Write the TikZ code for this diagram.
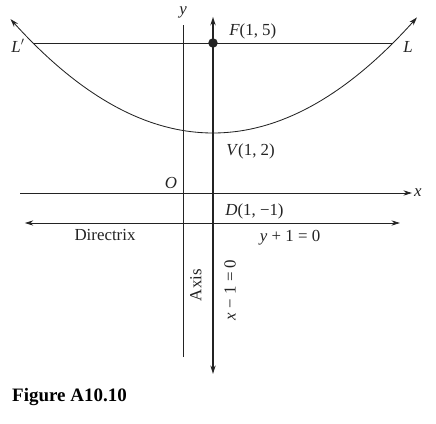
\documentclass[tikz,border=0pt]{standalone}
\usepackage{fontspec}
\setmainfont{Liberation Serif}
\usepackage{xcolor}
\definecolor{inkgray}{RGB}{35, 35, 35}
\usepackage{tikz}
\usetikzlibrary{arrows.meta, positioning, calc}

\tikzset{
    thinline/.style={line width=0.8pt, inkgray},
    axisline/.style={line width=2pt, inkgray},
    lbl/.style={font=\fontsize{16}{19}\selectfont, inner sep=1pt, text=inkgray}
}

\begin{document}
\begin{tikzpicture}[>={Stealth[length=8pt, width=5pt]}]
    \useasboundingbox (-6.1,-7.667) rectangle (8.433,6.433);

    % named points
    \coordinate (ybot) at (0,-5.47);
    \coordinate (ytop) at (0,5.6);
    \coordinate (xleft) at (-5.43,0);
    \coordinate (xright) at (7.63,0);
    \coordinate (dleft) at (-5.27,-1);
    \coordinate (dright) at (7.23,-1);
    \coordinate (abot) at (1,-6.03);
    \coordinate (atop) at (1,5.87);
    \coordinate (lpleft) at (-5,5);
    \coordinate (lpright) at (7,5);
    \coordinate (focus) at (1,5);

    % axes, directrix, axis of the parabola
    \draw[thinline] (ybot) -- (ytop);
    \draw[thinline, ->] (xleft) -- (xright);
    \draw[thinline, <->] (dleft) -- (dright);
    \draw[axisline, <->] (abot) -- (atop);

    % latus rectum and parabola
    \draw[thinline] (lpleft) -- (lpright);
    \draw[thinline, <->, smooth, samples=80, domain=-5.75:7.8]
        plot (\x, {2 + (\x-1)*(\x-1)/12});
    \fill[inkgray] (focus) circle (4.5pt);

    % labels
    \node[lbl] (ylab) at (0,6.03) {\textit{y}};
    \node[lbl, right=1pt of xright] (xlab) {\textit{x}};
    \node[lbl] (olab) at (-0.4,0.33) {\textit{O}};
    \node[lbl] (lplab) at (-5.5,4.9) {\textit{L}$'$};
    \node[lbl] (llab) at (7.5,4.87) {\textit{L}};
    \node[lbl, anchor=west] (flab) at (1.5,5.37) {\textit{F}(1, 5)};
    \node[lbl, anchor=west] (vlab) at (1.4,1.37) {\textit{V}(1, 2)};
    \node[lbl, anchor=west] (dlab) at (1.37,-0.6) {\textit{D}(1, −1)};
    \node[lbl] (dirlab) at (-2.6,-1.4) {Directrix};
    \node[lbl] (eqlab) at (3.57,-1.5) {\textit{y} + 1 = 0};
    \node[lbl, rotate=90] (axlab) at (0.43,-3.07) {Axis};
    \node[lbl, rotate=90] (xeqlab) at (1.57,-3.23) {\textit{x} − 1 = 0};

    \node[font=\fontsize{18}{21}\selectfont\bfseries, anchor=west, inner sep=0pt] (cap) at (-5.7,-6.8) {Figure A10.10};
\end{tikzpicture}
\end{document}
